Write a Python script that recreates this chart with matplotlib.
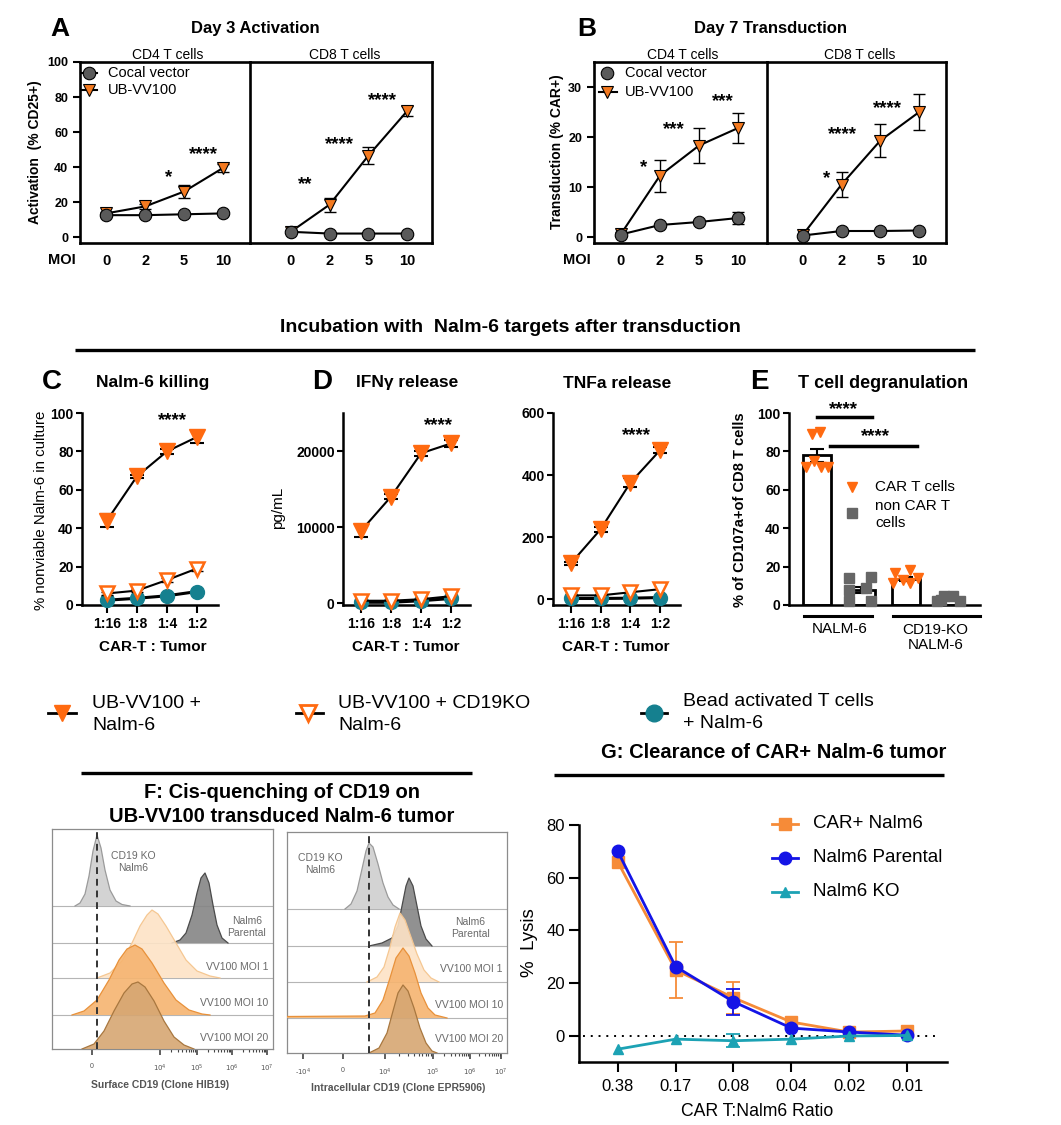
import numpy as np
import matplotlib
matplotlib.use("Agg")
import matplotlib.pyplot as plt
from matplotlib.lines import Line2D

plt.rcParams['font.family'] = ['Liberation Sans', 'DejaVu Sans']

# ------------------------------------------------------------------ data
moi_labels = ['0', '2', '5', '10']
# Panel A (Day 3 activation, % CD25+)
A_cd4_cocal = [12.5, 12.5, 13.0, 13.5]
A_cd4_cocal_err = [0.8, 0.8, 0.8, 0.8]
A_cd4_vv = [13.5, 17.5, 26.0, 39.5]
A_cd4_vv_err = [1.0, 1.5, 3.7, 2.5]
A_cd8_cocal = [3.0, 2.0, 2.0, 2.0]
A_cd8_cocal_err = [0.5, 0.3, 0.3, 0.3]
A_cd8_vv = [3.0, 18.5, 46.5, 72.0]
A_cd8_vv_err = [0.8, 4.0, 5.0, 3.0]
# Panel B (Day 7 transduction, % CAR+)
B_cd4_cocal = [0.5, 2.4, 3.0, 3.8]
B_cd4_cocal_err = [0.3, 0.3, 0.4, 1.2]
B_cd4_vv = [0.6, 12.3, 18.3, 21.8]
B_cd4_vv_err = [0.4, 3.2, 3.5, 3.0]
B_cd8_cocal = [0.3, 1.2, 1.2, 1.3]
B_cd8_cocal_err = [0.2, 0.2, 0.2, 0.2]
B_cd8_vv = [0.4, 10.5, 19.3, 25.0]
B_cd8_vv_err = [0.3, 2.5, 3.3, 3.6]

ratio_labels = ['1:16', '1:8', '1:4', '1:2']
# Panel C (% nonviable Nalm-6)
C_vv = [44.0, 67.0, 80.0, 87.5]
C_vv_err = [3.5, 0.8, 1.5, 3.0]
C_ko = [6.0, 7.5, 13.0, 19.0]
C_ko_err = [0.6, 0.6, 1.0, 1.5]
C_bead = [2.5, 3.5, 4.8, 7.0]
C_bead_err = [0.3, 0.3, 0.4, 0.5]
# Panel D (cytokines, pg/mL)
IFN_vv = [9500, 14000, 19700, 21000]
IFN_vv_err = [800, 300, 300, 500]
IFN_ko = [300, 300, 500, 900]
IFN_bead = [100, 100, 300, 600]
TNF_vv = [115, 225, 375, 480]
TNF_vv_err = [5, 8, 15, 10]
TNF_ko = [12, 12, 22, 32]
TNF_bead = [2, 2, 3, 5]

# Panel E (degranulation)
E_means = [78.0, 8.0, 13.5, 3.0]
E_sem = [3.5, 1.5, 1.0, 0.5]
E_g0_dx = [-0.11, 0.07, -0.25, -0.07, 0.09, 0.25]
E_g0_y = [89, 90, 72, 75, 72, 72]
E_g1_dx = [-0.27, 0.22, -0.27, 0.10, -0.27, 0.22]
E_g1_y = [14, 14.5, 8, 9, 2, 2]
E_g2_dx = [-0.25, 0.09, -0.29, -0.07, 0.09, 0.27]
E_g2_y = [16.5, 18, 11.5, 13, 11.5, 14]
E_g3_dx = [-0.30, -0.14, 0.07, 0.22, -0.20]
E_g3_y = [2, 4.5, 4.5, 2, 2.5]

# Panel G (% lysis)
G_labels = ['0.38', '0.17', '0.08', '0.04', '0.02', '0.01']
G_car = [66.0, 25.0, 14.5, 5.3, 1.5, 1.9]
G_car_err = [0, 10.5, 6.0, 0, 0, 0]
G_par = [70.0, 26.3, 13.0, 3.0, 1.5, 0.3]
G_par_err = [0, 0, 5.0, 0, 0, 0]
G_ko = [-5.0, -1.2, -1.8, -1.2, 0.0, 0.2]
G_ko_err = [0, 0, 2.5, 0, 0, 0]

# Panel F (flow histograms: channel position, height above row baseline)
FL_ko_x = [23, 28, 33, 37, 41, 45, 49, 53, 58, 64, 70, 78]
FL_ko_h = [0, 3, 12, 30, 55, 71, 58, 36, 16, 5, 1.5, 0]
FL_par_x = [120, 128, 134, 140, 145, 149, 153, 157, 161, 165, 170, 176]
FL_par_h = [0, 3, 10, 28, 50, 65, 70, 60, 38, 18, 5, 0]
FL_m1_x = [45, 58, 70, 80, 88, 95, 100, 106, 114, 124, 134, 145, 158, 168]
FL_m1_h = [0, 5, 17, 35, 52, 63, 68, 64, 52, 35, 18, 7, 2, 0]
FL_m10_x = [20, 32, 45, 57, 67, 75, 83, 90, 100, 112, 124, 137, 150, 158]
FL_m10_h = [0, 4, 15, 35, 55, 66, 70, 66, 52, 32, 15, 5, 1, 0]
FL_m20_x = [30, 42, 52, 62, 72, 80, 86, 93, 102, 112, 122, 132, 142]
FL_m20_h = [0, 5, 18, 38, 56, 65, 67, 62, 48, 28, 12, 4, 0]
FR_ko_x = [58, 64, 70, 75, 79, 82, 86, 91, 96, 101, 106, 112]
FR_ko_h = [0, 5, 18, 40, 58, 66, 62, 45, 26, 12, 4, 0]
FR_par_x = [82, 95, 105, 111, 115, 119, 122, 126, 130, 134, 139, 145]
FR_par_h = [0, 3, 8, 20, 40, 60, 68, 60, 40, 20, 7, 0]
FR_m1_x = [80, 90, 97, 103, 108, 113, 118, 124, 130, 137, 144, 152]
FR_m1_h = [0, 5, 15, 35, 55, 69, 62, 45, 28, 12, 4, 0]
FR_m10_x = [0, 78, 88, 96, 103, 109, 116, 122, 128, 134, 141, 148, 160]
FR_m10_h = [1.5, 2, 5, 18, 40, 60, 70, 62, 45, 25, 10, 3, 0]
FR_m20_x = [82, 92, 100, 106, 111, 116, 121, 127, 133, 139, 145, 150]
FR_m20_h = [0, 5, 20, 42, 60, 68, 62, 45, 25, 10, 2, 0]
F_row_names = ['CD19 KO\nNalm6', 'Nalm6\nParental', 'VV100 MOI 1', 'VV100 MOI 10', 'VV100 MOI 20']

# ------------------------------------------------------------------ style
ORANGE_A = '#F47A20'
ORANGE = '#FF6A10'
TEAL = '#15808F'
GRAY_PT = '#666666'
G_OR = '#F68B38'
G_BL = '#1414E6'
G_TE = '#1CA2B4'

W, H = 1061, 1125
fig = plt.figure(figsize=(W / 100, H / 100), dpi=100)


def add_ax(x0, y0, x1, y1):
    return fig.add_axes([x0 / W, 1 - y1 / H, (x1 - x0) / W, (y1 - y0) / H])


def ftext(x, y, s, **kw):
    kw.setdefault('ha', 'center')
    kw.setdefault('va', 'center')
    fig.text(x / W, 1 - y / H, s, **kw)


def fline(xs, ys, **kw):
    fig.add_artist(Line2D([x / W for x in xs], [1 - y / H for y in ys],
                          transform=fig.transFigure, **kw))


def bold_ticks(ax):
    for lab in ax.get_xticklabels() + ax.get_yticklabels():
        lab.set_fontweight('bold')


# ------------------------------------------------------------------ A / B
def draw_moi(ax, cocal, cerr, vv, verr):
    x = np.arange(len(moi_labels))
    ax.errorbar(x, vv, yerr=verr, fmt='none', ecolor='black', elinewidth=1,
                capsize=4, capthick=1, zorder=2)
    ax.plot(x, vv, color='black', lw=1.5, marker='v', ms=9, mfc=ORANGE_A,
            mec='black', mew=0.8, zorder=3, clip_on=False)
    ax.errorbar(x, cocal, yerr=cerr, fmt='none', ecolor='black', elinewidth=1,
                capsize=4, capthick=1, zorder=4)
    ax.plot(x, cocal, color='black', lw=1.5, marker='o', ms=9, mfc='#5a5a5a',
            mec='black', mew=0.8, zorder=5, clip_on=False)
    ax.set_xticks(x)
    ax.set_xticklabels(moi_labels, fontweight='bold', fontsize=10.5)
    ax.tick_params(axis='x', length=0, pad=8)
    for s in ax.spines.values():
        s.set_linewidth(1.9)


def pair_panel(xl, xm, xr, ylim, yticks, xlimL, xlimR, dL, dR):
    axR = add_ax(xm, 62, xr, 243)
    axL = add_ax(xl, 62, xm, 243)
    draw_moi(axL, *dL)
    draw_moi(axR, *dR)
    for ax, xlim in ((axL, xlimL), (axR, xlimR)):
        ax.set_ylim(*ylim)
        ax.set_xlim(*xlim)
        ax.patch.set_visible(False)
    axL.set_yticks(yticks)
    axL.tick_params(axis='y', direction='out', length=5, width=1.5, labelsize=9)
    bold_ticks(axL)
    axR.spines['left'].set_visible(False)
    axR.set_yticks([])
    return axL, axR


aL, aR = pair_panel(80, 250, 432, (-3.4, 100), [0, 20, 40, 60, 80, 100],
                    (-0.67, 3.69), (-1.05, 3.64),
                    (A_cd4_cocal, A_cd4_cocal_err, A_cd4_vv, A_cd4_vv_err),
                    (A_cd8_cocal, A_cd8_cocal_err, A_cd8_vv, A_cd8_vv_err))
star_kw = dict(ha='center', va='center', fontsize=13.5, fontweight='bold')
aL.text(1.6, 34, '*', **star_kw)
aL.text(2.5, 47, '****', **star_kw)
aR.text(0.37, 30, '**', **star_kw)
aR.text(1.26, 53, '****', **star_kw)
aR.text(2.36, 78, '****', **star_kw)

bL, bR = pair_panel(594, 767, 946, (-1.2, 35), [0, 10, 20, 30],
                    (-0.69, 3.74), (-0.92, 3.69),
                    (B_cd4_cocal, B_cd4_cocal_err, B_cd4_vv, B_cd4_vv_err),
                    (B_cd8_cocal, B_cd8_cocal_err, B_cd8_vv, B_cd8_vv_err))
bL.text(0.59, 13.8, '*', **star_kw)
bL.text(1.36, 21.5, '***', **star_kw)
bL.text(2.6, 27.0, '***', **star_kw)
bR.text(0.62, 11.6, '*', **star_kw)
bR.text(1.03, 20.5, '****', **star_kw)
bR.text(2.18, 25.6, '****', **star_kw)

for lx, tx, title, ylab, cx in ((60, 255, 'Day 3 Activation', 'Activation  (% CD25+)', 35),
                                 (587, 770, 'Day 7 Transduction', 'Transduction (% CAR+)', 557)):
    ftext(lx, 29, 'A' if lx == 60 else 'B', fontsize=19, fontweight='bold')
    ftext(tx, 29, title, fontsize=12, fontweight='bold')
    ftext(cx, 152, ylab, fontsize=10, fontweight='bold', rotation=90)
ftext(168, 55, 'CD4 T cells', fontsize=10)
ftext(345, 55, 'CD8 T cells', fontsize=10)
ftext(683, 55, 'CD4 T cells', fontsize=10)
ftext(860, 55, 'CD8 T cells', fontsize=10)
ftext(62, 260, 'MOI', fontsize=10.5, fontweight='bold')
ftext(577, 260, 'MOI', fontsize=10.5, fontweight='bold')

# legends of A and B
fline([81, 97], [73, 73], color='black', lw=1.5)
fline([89], [73], marker='o', ms=9, mfc='#5a5a5a', mec='black', mew=0.8, ls='none')
fline([81, 97], [90, 90], color='black', lw=1.5)
fline([89], [90], marker='v', ms=9, mfc=ORANGE_A, mec='black', mew=0.8, ls='none')
ftext(108, 73, 'Cocal vector', fontsize=10.5, ha='left')
ftext(108, 90, 'UB-VV100', fontsize=10.5, ha='left')
fline([607], [73], marker='o', ms=9, mfc='#5a5a5a', mec='black', mew=0.8, ls='none')
fline([599, 617], [92, 92], color='black', lw=1.5)
fline([607], [92], marker='v', ms=9, mfc=ORANGE_A, mec='black', mew=0.8, ls='none')
ftext(625, 73, 'Cocal vector', fontsize=10.5, ha='left')
ftext(625, 92, 'UB-VV100', fontsize=10.5, ha='left')

# ------------------------------------------------------------------ header
ftext(510, 328, 'Incubation with  Nalm-6 targets after transduction',
      fontsize=14, fontweight='bold')
fline([75, 975], [350, 350], color='black', lw=2.4, solid_capstyle='butt')


# ------------------------------------------------------------------ C / D
def gp_style(ax, labelsize=10):
    for s in ['top', 'right']:
        ax.spines[s].set_visible(False)
    for s in ['left', 'bottom']:
        ax.spines[s].set_linewidth(1.8)
    ax.tick_params(direction='out', length=6, width=1.5, labelsize=labelsize)
    ax.tick_params(axis='y', length=4, pad=2)


def draw_kill(ax, vv, vverr, ko, bead):
    x = np.arange(len(ratio_labels))
    ax.plot(x, bead, color='black', lw=2.2, marker='o', ms=10, mfc=TEAL,
            mec=TEAL, zorder=3, clip_on=False)
    ax.plot(x, ko, color='black', lw=1.5, marker='v', ms=10, mfc='white',
            mec=ORANGE, mew=1.8, zorder=4, clip_on=False)
    ax.errorbar(x, vv, yerr=vverr, fmt='none', ecolor='black', elinewidth=1.2,
                capsize=5, capthick=1.5, zorder=5)
    ax.plot(x, vv, color='black', lw=1.5, marker='v', ms=11, mfc=ORANGE,
            mec=ORANGE, zorder=6, clip_on=False)
    ax.set_xticks(x)
    ax.set_xticklabels(ratio_labels)
    gp_style(ax)
    ax.tick_params(axis='x', pad=3)
    bold_ticks(ax)


axC = add_ax(82, 413, 218, 605)
draw_kill(axC, C_vv, C_vv_err, C_ko, C_bead)
axC.errorbar(np.arange(4), C_ko, yerr=C_ko_err, fmt='none', ecolor='black',
             elinewidth=1, capsize=4, zorder=3.5)
axC.set_ylim(0, 100)
axC.set_xlim(-0.83, 3.7)
axC.set_yticks([0, 20, 40, 60, 80, 100])
bold_ticks(axC)
axC.text(2.2, 96, '****', **star_kw)

axD = add_ax(343, 413, 470, 605)
draw_kill(axD, IFN_vv, IFN_vv_err, IFN_ko, IFN_bead)
axD.set_ylim(-260, 25000)
axD.set_xlim(-0.6, 3.63)
axD.set_yticks([0, 10000, 20000])
bold_ticks(axD)
axD.text(2.57, 23300, '****', **star_kw)

axT = add_ax(553, 413, 680, 605)
draw_kill(axT, TNF_vv, TNF_vv_err, TNF_ko, TNF_bead)
axT.set_ylim(-19, 600)
axT.set_xlim(-0.6, 3.67)
axT.set_yticks([0, 200, 400, 600])
bold_ticks(axT)
axT.text(2.2, 528, '****', **star_kw)

ftext(52, 382, 'C', fontsize=20, fontweight='bold')
ftext(322, 382, 'D', fontsize=20, fontweight='bold')
ftext(759, 382, 'E', fontsize=20, fontweight='bold')
ftext(153, 383, 'Nalm-6 killing', fontsize=12.5, fontweight='bold')
ftext(407, 383, 'IFNγ release', fontsize=12.5, fontweight='bold')
ftext(617, 383, 'TNFa release', fontsize=12.5, fontweight='bold')
ftext(883, 383, 'T cell degranulation', fontsize=13, fontweight='bold')
ftext(41, 510, '% nonviable Nalm-6 in culture', fontsize=10.8, rotation=90)
ftext(278, 508, 'pg/mL', fontsize=11, rotation=90)
ftext(740, 510, '% of CD107a+of CD8 T cells', fontsize=10.5, fontweight='bold', rotation=90)
for cx in (153, 406, 616):
    ftext(cx, 647, 'CAR-T : Tumor', fontsize=11, fontweight='bold')

# ------------------------------------------------------------------ E
axE = add_ax(789, 413, 980, 605)
xb = np.arange(4)
axE.bar(xb, E_means, width=0.63, color='white', edgecolor='black', linewidth=2, zorder=2)
axE.errorbar(xb, E_means, yerr=E_sem, fmt='none', ecolor='black', elinewidth=1.5,
             capsize=5, capthick=1.5, zorder=3)
for gi, (dx, yy) in enumerate(((E_g0_dx, E_g0_y), (E_g1_dx, E_g1_y),
                                (E_g2_dx, E_g2_y), (E_g3_dx, E_g3_y))):
    if gi % 2 == 0:
        axE.plot(gi + np.array(dx), yy, ls='none', marker='v', ms=7, mfc=ORANGE,
                 mec=ORANGE, zorder=4, clip_on=False)
    else:
        axE.plot(gi + np.array(dx), yy, ls='none', marker='s', ms=6.5, mfc=GRAY_PT,
                 mec=GRAY_PT, zorder=4, clip_on=False)
gp_style(axE)
axE.set_ylim(0, 100)
axE.set_xlim(-0.63, 3.67)
axE.set_yticks([0, 20, 40, 60, 80, 100])
axE.set_xticks([])
bold_ticks(axE)
axE.plot([0.0, 1.24], [98, 98], color='black', lw=2.5, clip_on=False)
axE.text(0.6, 102, '****', **star_kw)
axE.plot([0.29, 2.25], [83, 83], color='black', lw=2.5, clip_on=False)
axE.text(1.31, 87.5, '****', **star_kw)
axE.plot([-0.29, 1.24], [-5.7, -5.7], color='black', lw=2.2, clip_on=False)
axE.plot([1.71, 3.67], [-5.7, -5.7], color='black', lw=2.2, clip_on=False)
axE.text(0.52, -12.5, 'NALM-6', ha='center', va='center', fontsize=11)
axE.text(2.67, -17, 'CD19-KO\nNALM-6', ha='center', va='center', fontsize=11, linespacing=1.1)
fline([852], [487], marker='v', ms=7, mfc=ORANGE, mec=ORANGE, ls='none')
fline([852], [513], marker='s', ms=6.5, mfc=GRAY_PT, mec=GRAY_PT, ls='none')
ftext(875, 487, 'CAR T cells', fontsize=11, ha='left')
ftext(875, 506, 'non CAR T', fontsize=11, ha='left')
ftext(875, 523, 'cells', fontsize=11, ha='left')

# ------------------------------------------------------------------ legend row
fline([48, 76], [713, 713], color='black', lw=2)
fline([62], [713], marker='v', ms=12, mfc=ORANGE, mec=ORANGE, ls='none')
ftext(92, 703, 'UB-VV100 +', fontsize=14, ha='left')
ftext(92, 725, 'Nalm-6', fontsize=14, ha='left')
fline([296, 323], [713, 713], color='black', lw=2)
fline([308], [713], marker='v', ms=12, mfc='white', mec=ORANGE, mew=2, ls='none')
ftext(338, 703, 'UB-VV100 + CD19KO', fontsize=14, ha='left')
ftext(338, 725, 'Nalm-6', fontsize=14, ha='left')
fline([641, 667], [713, 713], color='black', lw=2)
fline([654], [713], marker='o', ms=12, mfc=TEAL, mec=TEAL, ls='none')
ftext(683, 701, 'Bead activated T cells', fontsize=14, ha='left')
ftext(683, 723, '+ Nalm-6', fontsize=14, ha='left')

# ------------------------------------------------------------------ F
ftext(774, 752, 'G: Clearance of CAR+ Nalm-6 tumor', fontsize=14.5, fontweight='bold')
fline([554, 944], [775, 775], color='black', lw=2.4, solid_capstyle='butt')
fline([81, 472], [773, 773], color='black', lw=2.4, solid_capstyle='butt')
ftext(282, 792, 'F: Cis-quenching of CD19 on', fontsize=14.5, fontweight='bold')
ftext(282, 816, 'UB-VV100 transduced Nalm-6 tumor', fontsize=14.5, fontweight='bold')

F_face = ['#cfcfcf', '#858585', '#fde3c6', '#f6b470', '#d6a672']
F_edge = ['#9a9a9a', '#4a4a4a', '#f5c792', '#e8913a', '#a8773f']


def flow_panel(box, baselines, curves, dash_x, ticks, ticklabels, label_pos, decades):
    ax = add_ax(*box)
    wdt = box[2] - box[0]
    hgt = box[3] - box[1]
    for b in baselines[:-1]:
        ax.axhline(b, color='#b5b5b5', lw=0.8, zorder=1)
    for i, (cx, ch) in enumerate(curves):
        base = baselines[i]
        top = base + np.array(ch, dtype=float)
        ax.fill_between(cx, base, top, facecolor=F_face[i], edgecolor='none',
                        alpha=0.9, zorder=2 + i)
        ax.plot(cx, top, color=F_edge[i], lw=0.9, zorder=2 + i)
    ax.plot([dash_x, dash_x], [0, hgt], color='#333333', lw=1.4,
            ls=(0, (3.5, 2.5)), zorder=10)
    for i, (tx, ty) in enumerate(label_pos):
        ha = 'center' if i < 2 else 'right'
        ax.text(tx, ty, F_row_names[i], ha=ha, va='center', fontsize=7.5,
                color='#6a6a6a', linespacing=1.2, zorder=11)
    ax.set_xlim(0, wdt)
    ax.set_ylim(0, hgt)
    ax.set_yticks([])
    ax.set_xticks(ticks)
    ax.set_xticklabels(ticklabels, fontsize=5, color='#555555')
    minors = []
    for d0, dw in decades:
        for k in range(2, 10):
            minors.append(d0 + dw * np.log10(k))
    ax.set_xticks(minors, minor=True)
    ax.tick_params(axis='x', which='major', length=4, width=1.2, color='#444444', pad=6)
    ax.tick_params(axis='x', which='minor', length=2.5, width=0.8, color='#444444')
    for s in ax.spines.values():
        s.set_color('#8c8c8c')
        s.set_linewidth(0.9)
    return ax


flow_panel((52, 829, 273, 1049), [143, 106, 71, 34, 0],
           [(FL_ko_x, FL_ko_h), (FL_par_x, FL_par_h), (FL_m1_x, FL_m1_h),
            (FL_m10_x, FL_m10_h), (FL_m20_x, FL_m20_h)],
           45, [40, 108, 145, 180, 215],
           ['0', '$10^4$', '$10^5$', '$10^6$', '$10^7$'],
           [(81, 187), (195, 122), (216, 82), (216, 46), (216, 11)],
           [(108, 37), (145, 35), (180, 35)])
flow_panel((287, 832, 507, 1053), [144, 107, 71, 35, 0],
           [(FR_ko_x, FR_ko_h), (FR_par_x, FR_par_h), (FR_m1_x, FR_m1_h),
            (FR_m10_x, FR_m10_h), (FR_m20_x, FR_m20_h)],
           82, [16, 56, 98, 146, 183, 214],
           ['-$10^4$', '0', '$10^4$', '$10^5$', '$10^6$', '$10^7$'],
           [(33, 189), (183, 125), (216, 84), (216, 48), (216, 14)],
           [(98, 48), (146, 37), (183, 31)])
ftext(160, 1085, 'Surface CD19 (Clone HIB19)', fontsize=7.5, fontweight='bold', color='#555555')
ftext(398, 1088, 'Intracellular CD19 (Clone EPR5906)', fontsize=7.5, fontweight='bold', color='#555555')

# ------------------------------------------------------------------ G
axG = add_ax(579, 825, 947, 1062)
xg = np.arange(len(G_labels))
axG.plot([-0.6, 5.55], [0, 0], color='black', lw=1.4, ls=(0, (1, 3)), zorder=1)


def g_series(y, err, color, marker, ms, z):
    y = np.array(y)
    err = np.array(err)
    m = err > 0
    axG.errorbar(xg[m], y[m], yerr=err[m], fmt='none', ecolor=color,
                 elinewidth=1.3, capsize=5, capthick=1.3, zorder=z)
    axG.plot(xg, y, color=color, lw=2, marker=marker, ms=ms, mfc=color, mec=color,
             zorder=z + 0.5, clip_on=False)


g_series(G_car, G_car_err, G_OR, 's', 8, 3)
g_series(G_par, G_par_err, G_BL, 'o', 9, 4)
g_series(G_ko, G_ko_err, G_TE, '^', 7.5, 5)
gp_style(axG, labelsize=12)
axG.tick_params(length=7)
axG.tick_params(axis='y', pad=3)
axG.set_ylim(-9.86, 80)
axG.set_xlim(-0.67, 5.69)
axG.set_yticks([0, 20, 40, 60, 80])
axG.set_xticks(xg)
axG.set_xticklabels(G_labels)
axG.tick_params(axis='x', pad=5)
ftext(757, 1111, 'CAR T:Nalm6 Ratio', fontsize=12.7)
ftext(530, 943, '%  Lysis', fontsize=13.5, rotation=90)
for yy, col, mk, ms, lab in ((824, G_OR, 's', 8, 'CAR+ Nalm6'),
                             (858, G_BL, 'o', 9, 'Nalm6 Parental'),
                             (892, G_TE, '^', 7.5, 'Nalm6 KO')):
    fline([772, 798], [yy, yy], color=col, lw=2)
    fline([785], [yy], marker=mk, ms=ms, mfc=col, mec=col, ls='none')
    ftext(813, yy, lab, fontsize=13.5, ha='left')

fig.savefig('out.png', dpi=100)
